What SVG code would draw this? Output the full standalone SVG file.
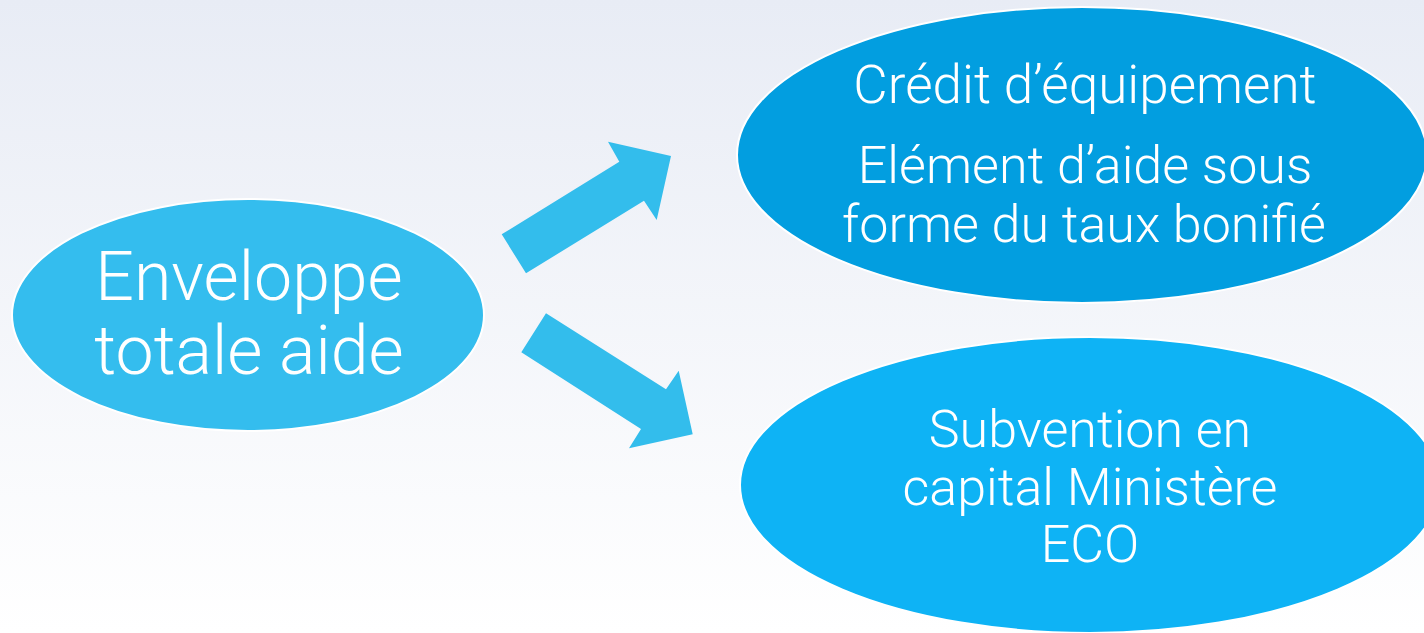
<svg xmlns="http://www.w3.org/2000/svg" width="1424" height="633" viewBox="0 0 1424 633">
<style>
.lbl{font-family:Roboto,"Liberation Sans",Arial,sans-serif;font-weight:300;fill:#ffffff;text-anchor:middle}
.node{stroke:#ffffff;stroke-width:2}
.arrow{fill:#33bdec}
</style>
<defs>
<linearGradient id="bg" x1="0" y1="0" x2="0" y2="1">
<stop offset="0" stop-color="#e8ecf5"/>
<stop offset="1" stop-color="#ffffff"/>
</linearGradient>
</defs>
<rect x="0" y="0" width="1424" height="633" fill="url(#bg)"/>
<g id="connectors">
<polygon class="arrow" points="501.7,234.3 619.3,161.7 608,141.7 671,156 656.7,220 644,200.7 526,273.3"/>
<polygon class="arrow" points="546,313.3 666,389.3 678.7,370.7 692.7,434.3 629,448.3 641,429 521.3,352.3"/>
</g>
<g id="node-enveloppe">
<ellipse class="node" cx="248" cy="315" rx="236" ry="116" fill="#34bdee"/>
<text class="lbl" x="249" y="300" font-size="68">Enveloppe</text>
<text class="lbl" x="249" y="374" font-size="68">totale aide</text>
</g>
<g id="node-credit">
<ellipse class="node" cx="1082" cy="155" rx="345" ry="148" fill="#029ee0"/>
<text class="lbl" x="1085" y="103" font-size="53">Crédit d’équipement</text>
<text class="lbl" x="1085" y="183" font-size="52">Elément d’aide sous</text>
<text class="lbl" x="1084" y="242" font-size="52">forme du taux bonifié</text>
</g>
<g id="node-subvention">
<ellipse class="node" cx="1090" cy="485" rx="350" ry="148" fill="#0eb3f5"/>
<text class="lbl" x="1090" y="447" font-size="52">Subvention en</text>
<text class="lbl" x="1090" y="505" font-size="52">capital Ministère</text>
<text class="lbl" x="1090" y="562" font-size="52">ECO</text>
</g>
</svg>
